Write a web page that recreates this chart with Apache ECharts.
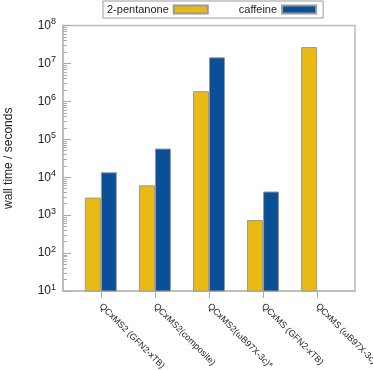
<!DOCTYPE html>
<html><head><meta charset="utf-8">
<script src="https://cdn.jsdelivr.net/npm/echarts@6/dist/echarts.min.js"></script>
<style>html,body{margin:0;padding:0;background:#fff}#c{width:373px;height:370px}</style>
</head><body><div id="c"></div>
<script>
const categories = ['QCxMS2 (GFN2-xTB)', 'QCxMS2(composite)', 'QCxMS2(ωB97X-3c)*', 'QCxMS (GFN2-xTB)', 'QCxMS (ωB97X-3c)'];
const pentanone = [2900, 6100, 1850000, 740, 27000000];
const caffeine = [13500, 57000, 14500000, 4200, null];
const yTickExps = [1, 2, 3, 4, 5, 6, 7, 8];
const yMinorTicks = [];
for (let e = 1; e < 8; e++) for (let m = 2; m <= 9; m++) yMinorTicks.push(m * Math.pow(10, e));

const font = 'Liberation Sans, Arial, Helvetica, sans-serif';
const chart = echarts.init(document.getElementById('c'), null, {renderer: 'canvas'});
const catIdx = categories.map((_, i) => i);
const toPairs = arr => arr.map((v, i) => [i, v == null ? null : v]);

chart.setOption({
  animation: false,
  textStyle: {fontFamily: font},
  legend: {
    top: 1, left: 103,
    data: ['2-pentanone', 'caffeine'],
    align: 'right',
    itemWidth: 34, itemHeight: 8, itemGap: 30,
    padding: [3, 6, 3, 4],
    borderColor: '#999', borderWidth: 1,
    textStyle: {fontSize: 11, color: '#222', fontFamily: font},
    icon: 'rect'
  },
  grid: {left: 63, right: 18, top: 25.5, bottom: 79, show: true, borderColor: '#bbb', borderWidth: 1.5, containLabel: false, outerBoundsMode: 'none'},
  xAxis: {
    type: 'value', min: -0.7, max: 4.7,
    axisLine: {show: true, onZero: false, lineStyle: {color: '#bbb', width: 1.5}},
    axisTick: {show: true, customValues: catIdx, length: 7, lineStyle: {color: '#aaa'}},
    axisLabel: {
      customValues: catIdx, rotate: -45, margin: 14,
      formatter: v => categories[Math.round(v)] || '',
      fontSize: 9, color: '#222', fontFamily: font
    },
    splitLine: {show: false}
  },
  yAxis: [{
    type: 'log', logBase: 10, min: 10, max: 1e8,
    name: 'wall time / seconds', nameLocation: 'middle', nameGap: 48,
    nameTextStyle: {fontSize: 12, color: '#222', fontFamily: font},
    axisLine: {show: true, onZero: false, lineStyle: {color: '#bbb', width: 1.5}},
    axisTick: {show: true, inside: true, length: 8, customValues: yTickExps.map(e => Math.pow(10, e)), lineStyle: {color: '#aaa'}},
    axisLabel: {
      customValues: yTickExps.map(e => Math.pow(10, e)),
      margin: 7,
      formatter: v => '{b|10}{s|' + Math.round(Math.log10(v)) + '}',
      rich: {
        b: {fontSize: 12, color: '#222', fontFamily: font},
        s: {fontSize: 9, color: '#222', fontFamily: font, verticalAlign: 'top', padding: [0, 0, 7, 0]}
      }
    },
    splitLine: {show: false}
  }, {
    type: 'log', logBase: 10, min: 10, max: 1e8, position: 'left',
    axisLine: {show: false, onZero: false},
    axisTick: {show: true, inside: true, length: 4, customValues: yMinorTicks, lineStyle: {color: '#aaa'}},
    axisLabel: {show: false},
    splitLine: {show: false}
  }],
  series: [{
    name: '2-pentanone', type: 'bar', data: toPairs(pentanone),
    barWidth: 16, barGap: '0%',
    itemStyle: {color: '#E9B914', borderColor: '#999', borderWidth: 1}
  }, {
    name: 'caffeine', type: 'bar', data: toPairs(caffeine),
    barWidth: 16, barGap: '0%',
    itemStyle: {color: '#0B4F96', borderColor: '#999', borderWidth: 1}
  }]
});
</script></body></html>
